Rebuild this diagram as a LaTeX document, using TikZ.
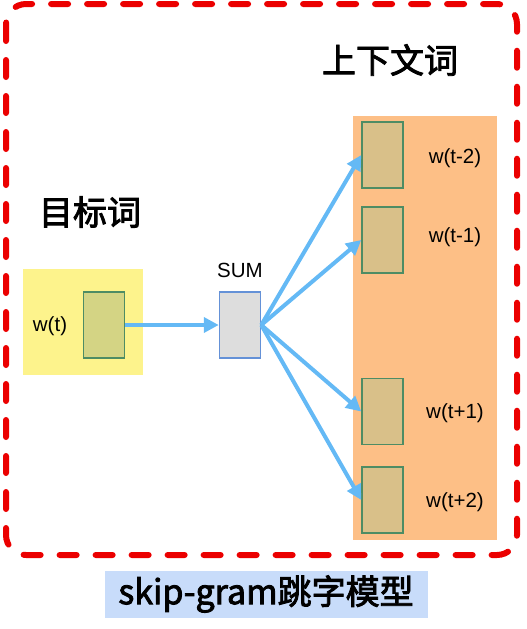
\documentclass[tikz,border=0pt]{standalone}
\usepackage{fontspec}
\setmainfont{Liberation Sans}
\newfontfamily\cjkfont[FakeBold=2.5]{Noto Sans CJK SC}
\usetikzlibrary{arrows.meta, positioning}
\definecolor{dashred}{RGB}{235, 0, 0}
\definecolor{inyellow}{RGB}{253, 243, 140}
\definecolor{outorange}{RGB}{253, 191, 134}
\definecolor{vecolive}{RGB}{212, 212, 132}
\definecolor{vectan}{RGB}{217, 192, 137}
\definecolor{vecedge}{RGB}{78, 140, 100}
\definecolor{sumgray}{RGB}{221, 221, 221}
\definecolor{sumedge}{RGB}{100, 145, 215}
\definecolor{arrblue}{RGB}{100, 185, 245}
\definecolor{capblue}{RGB}{200, 220, 250}
\tikzset{
  vecbox/.style={draw=vecedge, line width=1.5pt, minimum width=41pt, minimum height=66pt, inner sep=0pt},
  wordlabel/.style={font=\fontsize{20.5}{24}\selectfont, inner sep=0pt},
  cjktitle/.style={font=\cjkfont\fontsize{34}{40}\selectfont, inner sep=0pt},
  flow/.style={draw=arrblue, line width=4pt, -{Triangle[length=15pt, width=15pt]}}
}

\begin{document}
\begin{tikzpicture}[x=1pt, y=-1pt]
  \useasboundingbox (0,0) rectangle (527,629);
  % outer dashed frame
  \draw[dashred, line width=6pt, line cap=round, dash pattern=on 17pt off 19pt, rounded corners=20pt] (6,4) rectangle (517,555);
  % input and output areas
  \fill[inyellow] (23,269) rectangle (143,375);
  \fill[outorange] (353,116) rectangle (497,540);
  % titles
  \node[cjktitle] (ctxtitle) at (390,60) {上下文词};
  \node[cjktitle] (tgttitle) at (90,212) {目标词};
  % input word
  \node[vecbox, fill=vecolive] (wt) at (104,325) {};
  \node[wordlabel] (wtlabel) at (50,326) {w(t)};
  % sum
  \node[draw=sumedge, fill=sumgray, line width=1.5pt, minimum width=41pt, minimum height=66pt, inner sep=0pt] (sum) at (240,325) {};
  \node[wordlabel, above=13pt of sum] (sumlabel) {SUM};
  % context words
  \node[vecbox, fill=vectan] (wm2) at (382.5,155) {};
  \node[vecbox, fill=vectan] (wm1) at (382.5,240) {};
  \node[vecbox, fill=vectan] (wp1) at (382.5,411.5) {};
  \node[vecbox, fill=vectan] (wp2) at (382.5,500) {};
  \node[wordlabel] (lm2) at (455,158) {w(t-2)};
  \node[wordlabel] (lm1) at (455,237) {w(t-1)};
  \node[wordlabel] (lp1) at (455,413) {w(t+1)};
  \node[wordlabel] (lp2) at (455,502) {w(t+2)};
  % connectors
  \draw[flow] (wt.east) -- (sum.west);
  \foreach \ctx in {wm2, wm1, wp1, wp2}
    \draw[flow] (sum.east) -- (\ctx.west);
  % caption
  \node[fill=capblue, font=\cjkfont\fontsize{34}{40}\selectfont, minimum width=323pt, minimum height=47pt, inner sep=0pt] (caption) at (266,594) {skip-gram跳字模型};
\end{tikzpicture}
\end{document}
